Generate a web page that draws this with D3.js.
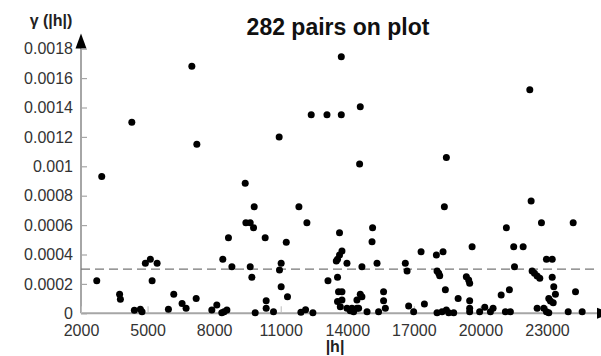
<!DOCTYPE html>
<html>
<head>
<meta charset="utf-8">
<script src="https://cdn.jsdelivr.net/npm/d3@7/dist/d3.min.js"></script>
<style>
  html, body { margin: 0; padding: 0; background: #fff; }
  svg { display: block; font-family: "Liberation Sans", Arial, sans-serif; }
</style>
</head>
<body>
<svg id="chart" width="601" height="356"></svg>
<script>
// Lag distance |h| of each plotted pair
const lagH = [
  2710, 2935, 3740, 3775, 4290, 4405, 4675, 4750, 4900, 5125,
  5430, 5205, 5940, 6180, 6555, 6735, 6995, 7190, 7220, 7895,
  8120, 8345, 8450, 8575, 8390, 8645, 8800, 9400, 9430, 9625,
  9775, 9805, 9625, 9700, 9850, 10300, 10345, 10345, 10675, 10930,
  11020, 10945, 11020, 11250, 11305, 11820, 12180, 11910, 12120, 12450,
  12375, 13085, 13730, 13730, 13130, 13650, 13760, 13650, 13560, 13505,
  13985, 13560, 13605, 13760, 13560, 13760, 13685, 13985, 14135, 14210,
  14285, 14435, 14510, 14585, 14555, 14585, 14660, 14435, 14660, 14890,
  15115, 15140, 15340, 15410, 15635, 15635, 15715, 16615, 16695, 16765,
  16990, 17325, 17475, 18015, 18315, 18045, 18120, 18165, 18375, 18465,
  18420, 18995, 18045, 18270, 18465, 18570, 18795, 19365, 19470, 19515,
  19625, 19515, 19515, 19515, 19965, 20195, 20450, 20570, 20935, 21305,
  21125, 21350, 21170, 21500, 21925, 21535, 22225, 22285, 22750, 24180,
  22975, 23235, 22330, 22435, 22555, 22675, 23235, 23305, 23380, 23080,
  23155, 23280, 22555, 22855, 22975, 23080, 23955, 24585, 24285
];

// Semivariance γ(|h|) of each plotted pair
const gammaH = [
  0.000222, 0.00093, 0.00013, 0.000095, 0.0013, 0.00002, 0.000027, 0.000011, 0.00034, 0.000367,
  0.00034, 0.000222, 0.000027, 0.00013, 0.000067, 0.000034, 0.00168, 0.0001, 0.00115, 0.000022,
  0.000056, 0.000004, 0.000011, 0.000022, 0.000367, 0.000514, 0.000317, 0.000884, 0.000616, 0.000616,
  0.000582, 0.000725, 0.000317, 0.000245, 0.000004, 0.000514, 0.000086, 0.000034, 0.000011, 0.0012,
  0.00034, 0.000295, 0.000181, 0.000483, 0.000113, 0.000725, 0.000616, 0.000007, 0.000024, 0.000004,
  0.00135, 0.00135, 0.00135, 0.001745, 0.000222, 0.000548, 0.000424, 0.000397, 0.000367, 0.000356,
  0.00034, 0.000245, 0.000147, 0.000147, 0.00008, 0.00009, 0.000045, 0.000034, 0.000018, 0.000034,
  0.000011, 0.000034, 0.000034, 0.001405, 0.001016, 0.00013, 0.000113, 0.00009, 0.000317, 0.000011,
  0.000487, 0.000582, 0.00034, 0.000011, 0.000147, 0.000086, 0.000034, 0.00034, 0.000288, 0.00005,
  0.000011, 0.000419, 0.000063, 0.000397, 0.000419, 0.000288, 0.000272, 0.000256, 0.000725, 0.00106,
  0.00016, 0.0001, 0.000004, 0.000011, 0.000022, 0.000004, 0.000004, 0.000249, 0.000227, 0.000204,
  0.000453, 0.000086, 0.000034, 0.000011, 0.000011, 0.000041, 0.000011, 0.000034, 0.000124, 0.00016,
  0.000011, 0.000011, 0.000582, 0.000453, 0.000453, 0.000317, 0.00152, 0.000764, 0.000616, 0.000616,
  0.000367, 0.000367, 0.000288, 0.000272, 0.000254, 0.000238, 0.000245, 0.000181, 0.00013, 0.0001,
  0.000084, 0.000072, 0.000034, 0.000034, 0.000011, 0.000004, 0.000011, 0.000011, 0.000147
];

const xTicks = [2000, 5000, 8000, 11000, 14000, 17000, 20000, 23000];
const yTicks = [0, 0.0002, 0.0004, 0.0006, 0.0008, 0.001, 0.0012, 0.0014, 0.0016, 0.0018];
const sill = 0.0003;
const titleText = "282 pairs on plot";

const svg = d3.select("#chart");

const x = d3.scaleLinear().domain([2000, 23000]).range([81, 547]);
const y = d3.scaleLinear().domain([0, 0.0018]).range([313.3, 48.7]);

const axisColor = "#a6a6a6";
const labelColor = "#333";

// Axis lines
svg.append("line")
  .attr("x1", x(2000)).attr("x2", 597)
  .attr("y1", y(0)).attr("y2", y(0))
  .attr("stroke", axisColor).attr("stroke-width", 2);
svg.append("line")
  .attr("x1", x(2000)).attr("x2", x(2000))
  .attr("y1", y(0)).attr("y2", 48)
  .attr("stroke", axisColor).attr("stroke-width", 2);

// Arrow heads
svg.append("path")
  .attr("d", `M${x(2000) - 5.5},48.5 L${x(2000)},33.5 L${x(2000) + 5.5},48.5 Z`)
  .attr("fill", "#000");
svg.append("path")
  .attr("d", `M597,${y(0) - 5.5} L612,${y(0)} L597,${y(0) + 5.5} Z`)
  .attr("fill", "#000");

// Y axis
const yAxis = d3.axisLeft(y)
  .tickValues(yTicks)
  .tickSizeInner(-6).tickSizeOuter(0).tickPadding(8)
  .tickFormat(d => d === 0 ? "0" : String(+d.toFixed(4)));
const gy = svg.append("g").attr("transform", `translate(${x(2000)},0)`).call(yAxis);
gy.select(".domain").remove();
gy.selectAll(".tick line").attr("stroke", axisColor).attr("stroke-width", 1.2);
gy.selectAll(".tick text").attr("fill", labelColor).attr("font-size", 16)
  .attr("font-family", "Liberation Sans, Arial, sans-serif");

// X axis
const xAxis = d3.axisBottom(x)
  .tickValues(xTicks)
  .tickSizeInner(-7).tickSizeOuter(0).tickPadding(11)
  .tickFormat(d3.format("d"));
const gx = svg.append("g").attr("transform", `translate(0,${y(0)})`).call(xAxis);
gx.select(".domain").remove();
gx.selectAll(".tick line").attr("stroke", "#bbb").attr("stroke-width", 1);
gx.selectAll(".tick text").attr("fill", labelColor).attr("font-size", 16)
  .attr("font-family", "Liberation Sans, Arial, sans-serif");

// Sill reference line
svg.append("line")
  .attr("x1", x(2000)).attr("x2", 597)
  .attr("y1", y(sill)).attr("y2", y(sill))
  .attr("stroke", "#777").attr("stroke-width", 1.2)
  .attr("stroke-dasharray", "9,5");

// Variogram cloud points
const pairs = lagH.map((h, i) => ({ h, g: gammaH[i] }));
svg.append("g").selectAll("circle")
  .data(pairs)
  .join("circle")
  .attr("cx", d => x(d.h))
  .attr("cy", d => y(d.g))
  .attr("r", 3.5)
  .attr("fill", "#000");

// Title and axis labels
svg.append("text")
  .attr("x", 338).attr("y", 35)
  .attr("text-anchor", "middle")
  .attr("font-size", 23).attr("font-weight", "bold").attr("fill", "#111")
  .text(titleText);

svg.append("text")
  .attr("x", 51).attr("y", 26)
  .attr("text-anchor", "middle")
  .attr("font-size", 16).attr("font-weight", "bold").attr("fill", "#222")
  .text("γ (|h|)");

svg.append("text")
  .attr("x", 335).attr("y", 352)
  .attr("text-anchor", "middle")
  .attr("font-size", 16).attr("font-weight", "bold").attr("fill", "#222")
  .text("|h|");
</script>
</body>
</html>
